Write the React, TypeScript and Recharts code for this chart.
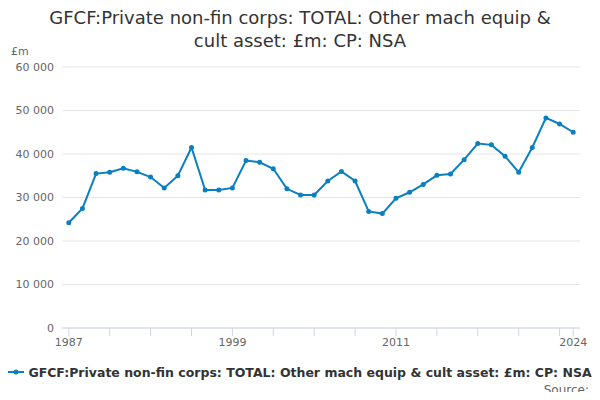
import React from 'react';
import { LineChart, Line, XAxis, YAxis, CartesianGrid } from 'recharts';

const years = Array.from({ length: 38 }, (_, i) => 1987 + i);
const values = [
  24200, 27500, 35500, 35800, 36700, 35900, 34700, 32200, 35000, 41500,
  31700, 31700, 32200, 38500, 38100, 36600, 32000, 30600, 30600, 33800,
  36000, 33800, 26800, 26300, 29800, 31200, 33000, 35100, 35400, 38700,
  42400, 42100, 39500, 35800, 41500, 48300, 46900, 45000,
];
const xTicks = [1987, 1990, 1993, 1996, 1999, 2002, 2005, 2008, 2011, 2014, 2017, 2020, 2023, 2024];
const labelled = [1987, 1999, 2011, 2024];
const yTicks = [0, 10000, 20000, 30000, 40000, 50000, 60000];

const data = years.map((y, i) => ({ year: y, value: values[i] }));
const font = '"DejaVu Sans", sans-serif';
const fmt = (v: number) => v.toLocaleString('en-US').replace(/,/g, ' ');

export default function App() {
  return (
    <div style={{ position: 'relative', width: 600, height: 400, margin: -8, background: '#fff', fontFamily: font }}>
      <div style={{ position: 'absolute', top: 6, left: 0, width: 600, textAlign: 'center', fontSize: 18, color: '#333', lineHeight: '23px' }}>
        GFCF:Private non-fin corps: TOTAL: Other mach equip &amp;<br />cult asset: £m: CP: NSA
      </div>
      <div style={{ position: 'absolute', top: 45, left: 11, fontSize: 11, color: '#666' }}>£m</div>
      <LineChart width={600} height={350} data={data} style={{ position: 'absolute', top: 0, left: 0 }}
        margin={{ top: 67, right: 20, left: 0, bottom: 0 }}>
        <CartesianGrid vertical={false} stroke="#e6e6e6" />
        <XAxis dataKey="year" type="number" domain={[1986.5, 2024.5]} ticks={xTicks} interval={0}
          tickFormatter={(v) => (labelled.includes(v) ? String(v) : '')}
          tick={{ fontSize: 11, fill: '#666', fontFamily: font }} stroke="#ccd6eb" tickSize={8} height={22} />
        <YAxis domain={[0, 60000]} ticks={yTicks} tickFormatter={fmt} axisLine={false} tickLine={false}
          tick={{ fontSize: 11, fill: '#666', fontFamily: font }} width={62} />
        <Line dataKey="value" stroke="#0a7fc2" strokeWidth={2} dot={{ r: 1.5, fill: '#0a7fc2', stroke: '#0a7fc2' }}
          isAnimationActive={false} />
      </LineChart>
      <div style={{ position: 'absolute', top: 365, left: 0, width: 600, textAlign: 'center', fontSize: 12.5, fontWeight: 'bold', color: '#333', whiteSpace: 'nowrap' }}>
        <svg width={16} height={10} style={{ marginRight: 4 }}>
          <line x1={0} y1={5} x2={16} y2={5} stroke="#0a7fc2" strokeWidth={2} />
          <circle cx={8} cy={5} r={2.5} fill="#0a7fc2" />
        </svg>
        GFCF:Private non-fin corps: TOTAL: Other mach equip &amp; cult asset: £m: CP: NSA
      </div>
      <div style={{ position: 'absolute', top: 383, right: 11, fontSize: 12, color: '#666' }}>Source:</div>
    </div>
  );
}
